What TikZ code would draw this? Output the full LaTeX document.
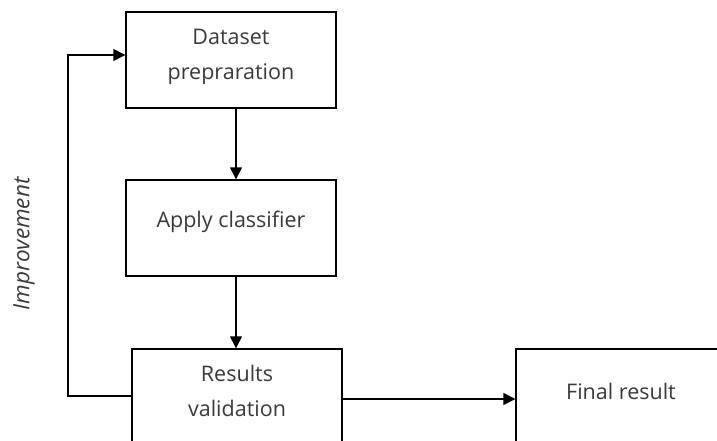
\documentclass[tikz,border=0pt]{standalone}
\usepackage{fontspec}
\setmainfont{Open Sans}
\usetikzlibrary{arrows.meta}
\definecolor{txt}{HTML}{3A3A3A}
\begin{document}
\begin{tikzpicture}[x=1pt,y=-1pt,
  stepbox/.style={draw=black,line width=1.4pt,minimum width=210pt,minimum height=96pt,inner sep=0pt},
  lbl/.style={yshift=6pt,inner sep=0pt,align=center,text=txt,font=\fontsize{21.5}{35}\selectfont},
  conn/.style={line width=1.4pt,-{Triangle[length=12pt,width=12pt]}}]
\useasboundingbox (0,0) rectangle (717,441);
\clip (0,0) rectangle (717,441);
\node[stepbox,label={[lbl,yshift=-3pt]center:Dataset\\prepraration}] (prep) at (231,60) {};
\node[stepbox,label={[lbl]center:Apply classifier}] (apply) at (231,228) {};
\node[stepbox,label={[lbl]center:Results\\validation}] (valid) at (237,397) {};
\node[stepbox,label={[lbl]center:Final result}] (final) at (621,397) {};
\coordinate (fbl) at (68,396);
\coordinate (fbt) at (68,55);
\draw[conn] (prep.south -| 236,0) -- (apply.north -| 236,0);
\draw[conn] (apply.south -| 236,0) -- (valid.north -| 236,0);
\draw[conn] (valid.east |- 0,399) -- (final.west |- 0,399);
\draw[conn] (valid.west |- fbl) -- (fbl) -- (fbt) -- (prep.west |- fbt);
\node[rotate=90,text=txt,font=\fontsize{22.5}{26}\selectfont\itshape] (impr) at (24,244) {Improvement};
\end{tikzpicture}
\end{document}
